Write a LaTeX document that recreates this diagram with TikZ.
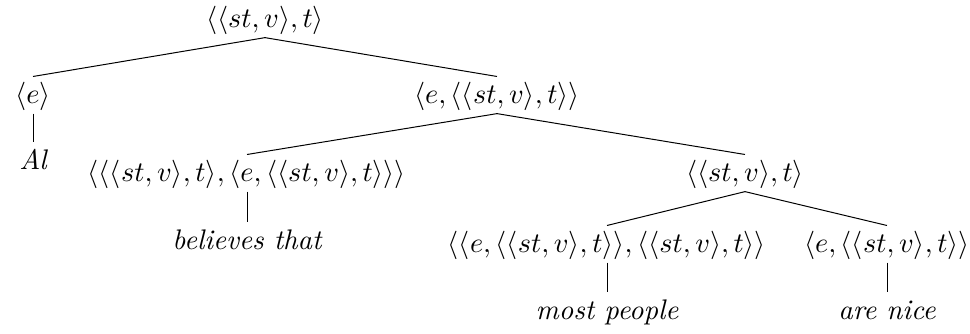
\documentclass[tikz,border=0pt]{standalone}
\begin{document}
\begin{tikzpicture}[x=0.3528pt,y=-0.3528pt,
  typ/.style={anchor=base, inner xsep=0pt, inner ysep=1pt, text height=8.5pt, text depth=2.2pt},
  lf/.style={anchor=base, inner xsep=0pt, inner ysep=1pt, text height=8.5pt, text depth=2.2pt, font=\itshape},
  br/.style={line width=0.35pt, draw=black}]
\useasboundingbox (0,0) rectangle (970,334);
\node[typ] (root) at (265,28) {$\langle\langle st,v\rangle,t\rangle$};
\node[typ] (e) at (33,104) {$\langle e\rangle$};
\node[typ] (A) at (497,104) {$\langle e,\langle\langle st,v\rangle,t\rangle\rangle$};
\node[lf] (Al) at (33,170) {Al};
\node[typ] (B) at (247,182) {$\langle\langle\langle st,v\rangle,t\rangle,\langle e,\langle\langle st,v\rangle,t\rangle\rangle\rangle$};
\node[typ] (C) at (745,182) {$\langle\langle st,v\rangle,t\rangle$};
\node[lf] (bel) at (247,250) {believes that};
\node[typ] (D) at (607,253) {$\langle\langle e,\langle\langle st,v\rangle,t\rangle\rangle,\langle\langle st,v\rangle,t\rangle\rangle$};
\node[typ] (E) at (887,253) {$\langle e,\langle\langle st,v\rangle,t\rangle\rangle$};
\node[lf] (most) at (607,320) {most people};
\node[lf] (nice) at (887,320) {are nice};
\draw[br] (root.south) -- (e.north);
\draw[br] (root.south) -- (A.north);
\draw[br] (A.south) -- (B.north);
\draw[br] (A.south) -- (C.north);
\draw[br] (C.south) -- (D.north);
\draw[br] (C.south) -- (E.north);
\draw[br] (e.south) -- (Al.north);
\draw[br] (B.south) -- (bel.north);
\draw[br] (D.south) -- (most.north);
\draw[br] (E.south) -- (nice.north);
\end{tikzpicture}
\end{document}
